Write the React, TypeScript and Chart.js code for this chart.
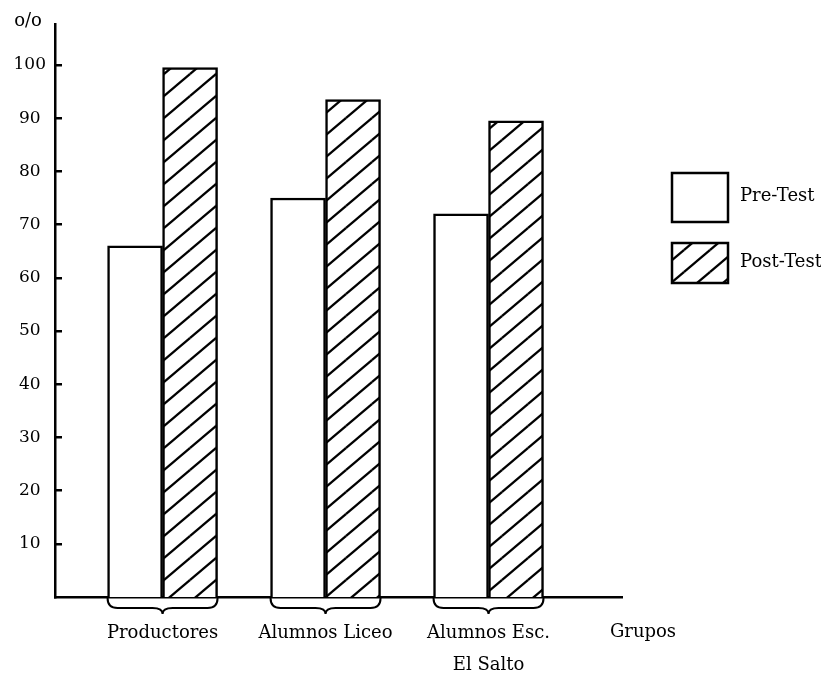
import { useEffect, useRef } from 'react';
import { Chart, registerables } from 'chart.js';

Chart.register(...registerables);

// ---- data ----
const categories: (string | string[])[] = ['Productores', 'Alumnos Liceo', ['Alumnos Esc.', 'El Salto']];
const groupPositions = [1, 2, 3];
const preTest = [66, 75, 72];
const postTest = [99.5, 93.5, 89.5];
const seriesLabels = ['Pre-Test', 'Post-Test'];
const yTickValues = [10, 20, 30, 40, 50, 60, 70, 80, 90, 100];
const yUnitLabel = 'o/o';
const xAxisLabel = 'Grupos';

const FONT = "'DejaVu Serif', 'Liberation Serif', serif";

function makeHatch(): CanvasPattern | string {
  const w = 26;
  const h = 22;
  const c = document.createElement('canvas');
  c.width = w;
  c.height = h;
  const ctx = c.getContext('2d');
  if (!ctx) return '#fff';
  ctx.fillStyle = '#fff';
  ctx.fillRect(0, 0, w, h);
  ctx.strokeStyle = '#000';
  ctx.lineWidth = 2.3;
  const offs = [[0, 0], [-w, 0], [w, 0], [0, -h], [0, h]];
  for (const [dx, dy] of offs) {
    ctx.beginPath();
    ctx.moveTo(dx, dy + h);
    ctx.lineTo(dx + w, dy);
    ctx.stroke();
  }
  return ctx.createPattern(c, 'repeat') || '#fff';
}

const decorPlugin = {
  id: 'decor',
  afterDraw(chart: any) {
    const { ctx, chartArea } = chart;
    ctx.save();
    // braces under each group
    const m0 = chart.getDatasetMeta(0);
    const m1 = chart.getDatasetMeta(1);
    ctx.strokeStyle = '#000';
    ctx.lineWidth = 2;
    const y0 = chartArea.bottom + 1;
    groupPositions.forEach((_, i) => {
      const b0 = m0.data[i];
      const b1 = m1.data[i];
      if (!b0 || !b1) return;
      const xL = b0.x - b0.width / 2;
      const xR = b1.x + b1.width / 2;
      const xm = (xL + xR) / 2;
      const yh = y0 + 10;
      const yt = y0 + 16;
      ctx.beginPath();
      ctx.moveTo(xL, y0);
      ctx.quadraticCurveTo(xL, yh, xL + 10, yh);
      ctx.lineTo(xm - 10, yh);
      ctx.quadraticCurveTo(xm, yh, xm, yt);
      ctx.quadraticCurveTo(xm, yh, xm + 10, yh);
      ctx.lineTo(xR - 10, yh);
      ctx.quadraticCurveTo(xR, yh, xR, y0);
      ctx.stroke();
    });

    ctx.fillStyle = '#000';
    ctx.textBaseline = 'middle';
    ctx.textAlign = 'center';
    ctx.font = `18px ${FONT}`;
    // unit label
    ctx.fillText(yUnitLabel, 20, 13);
    // axis label
    ctx.fillText(xAxisLabel, chartArea.right + 21, chartArea.bottom + 35);

    // legend
    const boxes = [
      { y: 165, h: 49 },
      { y: 235, h: 40 },
    ];
    const bx = 664;
    const bw = 56;
    chart.data.datasets.forEach((ds: any, i: number) => {
      const b = boxes[i];
      ctx.fillStyle = ds.backgroundColor;
      ctx.fillRect(bx, b.y, bw, b.h);
      ctx.strokeStyle = '#000';
      ctx.lineWidth = 2.5;
      ctx.strokeRect(bx, b.y, bw, b.h);
      ctx.fillStyle = '#000';
      ctx.textAlign = 'left';
      ctx.fillText(ds.label, 732, b.y + b.h / 2 - 1);
    });
    ctx.restore();
  },
};

export default function App() {
  const ref = useRef<HTMLCanvasElement | null>(null);

  useEffect(() => {
    if (!ref.current) return;
    const hatch = makeHatch();
    const chart = new Chart(ref.current, {
      type: 'bar',
      data: {
        datasets: [
          {
            label: seriesLabels[0],
            data: groupPositions.map((x, i) => ({ x, y: preTest[i] })),
            backgroundColor: '#fff',
            borderColor: '#000',
            borderWidth: 2.5,
            barThickness: 55,
          },
          {
            label: seriesLabels[1],
            data: groupPositions.map((x, i) => ({ x, y: postTest[i] })),
            backgroundColor: hatch as any,
            borderColor: '#000',
            borderWidth: 2.5,
            barThickness: 55,
          },
        ],
      },
      options: {
        animation: false,
        responsive: true,
        maintainAspectRatio: false,
        layout: { padding: { left: 0, top: 16, right: 207, bottom: 0 } },
        plugins: {
          legend: { display: false },
          tooltip: { enabled: false },
        },
        scales: {
          x: {
            type: 'linear',
            offset: false,
            min: 0.34,
            max: 3.819,
            grid: { drawOnChartArea: false, drawTicks: false },
            border: { color: '#000', width: 2.5 },
            afterBuildTicks: (s: any) => {
              s.ticks = groupPositions.map((v) => ({ value: v }));
            },
            afterFit: (s: any) => {
              s.height = 76;
              s.paddingLeft = 0;
              s.paddingRight = 0;
            },
            ticks: {
              callback: (v: any) => {
                const idx = groupPositions.indexOf(Number(v));
                return idx >= 0 ? categories[idx] : '';
              },
              font: { family: FONT, size: 18, lineHeight: 1.8 },
              color: '#000',
              padding: 20,
              maxRotation: 0,
              autoSkip: false,
            },
          },
          y: {
            type: 'linear',
            min: 0,
            max: 107.7,
            afterBuildTicks: (s: any) => {
              s.ticks = yTickValues.map((v) => ({ value: v }));
            },
            afterFit: (s: any) => {
              s.width = 47;
              s.paddingTop = 0;
              s.paddingBottom = 0;
            },
            grid: { drawOnChartArea: false, drawTicks: true, tickLength: -7, color: '#000', lineWidth: 2.5 },
            border: { color: '#000', width: 2.5 },
            ticks: {
              font: { family: FONT, size: 17 },
              color: '#000',
              crossAlign: 'center',
              padding: 16,
            },
          },
        },
      } as any,
      plugins: [decorPlugin],
    });
    return () => chart.destroy();
  }, []);

  return (
    <div style={{ position: 'relative', width: 821, height: 665 }}>
      <canvas ref={ref} />
    </div>
  );
}
